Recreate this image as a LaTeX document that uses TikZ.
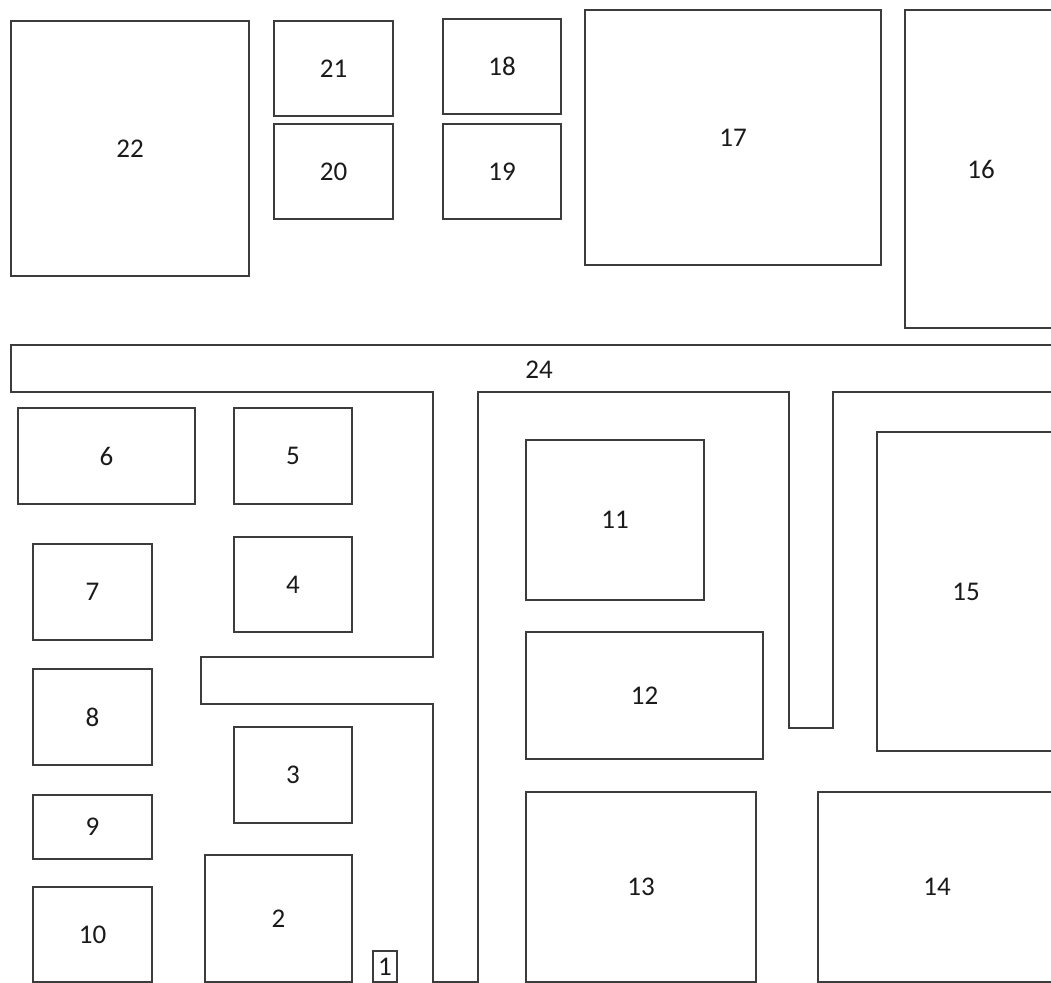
\documentclass[tikz,border=0pt]{standalone}
\usepackage{fontspec}
\setmainfont{Carlito}
\definecolor{wallc}{HTML}{3C3C3C}
\definecolor{textc}{HTML}{1A1A1A}
\begin{document}
\begin{tikzpicture}[x=1bp,y=-1bp,
  room/.style={draw=wallc, line width=1.6bp, inner sep=0pt, outer sep=0pt,
    text=textc, font=\fontsize{27bp}{29bp}\selectfont},
  wall/.style={draw=wallc, line width=1.6bp, line join=miter},
  lbl/.style={text=textc, inner sep=0pt, font=\fontsize{27bp}{29bp}\selectfont}]
\useasboundingbox (0,0) rectangle (1051,983);
\clip (0,0) rectangle (1051,983);
\fill[white] (0,0) rectangle (1051,983);
\foreach \n/\xa/\ya/\xb/\yb in {
  22/11/21/249/276, 21/274/21/393/116, 20/274/124/393/219,
  18/443/19/561/114, 19/443/124/561/219, 17/585/10/881/265,
  16/905/10/1057/328, 6/18/408/195/504, 5/234/408/352/504,
  7/33/544/152/640, 4/234/537/352/632, 8/33/669/152/765,
  3/234/727/352/823, 9/33/795/152/859, 10/33/887/152/982,
  2/205/855/352/982, 11/526/440/704/600, 12/526/632/763/759,
  13/526/792/756/982, 14/818/792/1056/982, 15/877/432/1055/751}{
  \pgfmathsetmacro\w{\xb-\xa}
  \pgfmathsetmacro\h{\yb-\ya}
  \node[room, minimum width=\w bp, minimum height=\h bp]
    (r\n) at ({(\xa+\xb)/2},{(\ya+\yb)/2}) {\raisebox{-2bp}{\n}};
}
\node[room, minimum width=24bp, minimum height=31bp] (r1) at (385,966.5) {\raisebox{-1bp}{1}};
% corridor 24
\draw[wall] (1060,345) -- (11,345) -- (11,392) -- (433,392) -- (433,657)
  -- (201,657) -- (201,704) -- (433,704) -- (433,982) -- (478,982)
  -- (478,392) -- (789,392) -- (789,728) -- (833,728)
  -- (833,392) -- (1060,392);
\node[lbl] (r24) at (539,370) {24};
\end{tikzpicture}
\end{document}
